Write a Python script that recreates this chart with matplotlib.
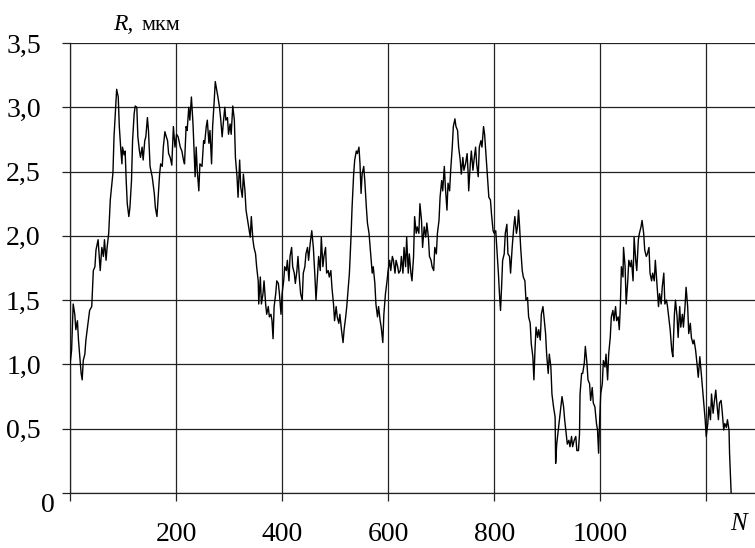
import matplotlib
matplotlib.use("Agg")
import matplotlib.pyplot as plt

# roughness profile, R in micrometres against point number N
n_pts = [
    0, 3, 6, 9, 11, 14, 16, 19, 21, 23, 25, 28, 30, 33, 37, 41, 44, 47, 49, 53,
    57, 60, 63, 65, 68, 70, 73, 76, 79, 81, 83, 86, 88, 91, 93, 96, 98, 99, 102, 104,
    106, 108, 111, 113, 116, 118, 121, 123, 126, 128, 131, 133, 136, 138, 141, 143, 146, 148, 151, 155,
    159, 161, 164, 166, 169, 171, 174, 176, 179, 181, 184, 186, 189, 192, 195, 198, 201, 204, 208, 211,
    214, 216, 219, 221, 224, 226, 229, 232, 234, 236, 238, 240, 243, 245, 249, 252, 254, 257, 259, 262,
    264, 267, 269, 272, 274, 277, 279, 282, 284, 287, 289, 292, 294, 297, 299, 302, 304, 307, 310, 312,
    315, 317, 320, 322, 325, 327, 330, 332, 335, 337, 340, 342, 345, 347, 350, 352, 355, 356, 359, 361,
    364, 366, 369, 371, 374, 376, 379, 381, 383, 385, 388, 390, 393, 395, 398, 400, 403, 405, 408, 410,
    413, 415, 418, 420, 423, 425, 428, 430, 433, 435, 438, 440, 443, 445, 448, 450, 453, 456, 459, 462,
    464, 467, 469, 472, 474, 477, 479, 482, 484, 487, 489, 492, 494, 497, 499, 502, 504, 507, 509, 512,
    515, 517, 520, 522, 525, 527, 530, 532, 535, 537, 540, 542, 545, 547, 549, 551, 554, 556, 559, 561,
    564, 565, 567, 570, 572, 575, 577, 580, 582, 585, 587, 590, 592, 595, 598, 600, 603, 605, 608, 610,
    613, 615, 618, 620, 623, 625, 628, 630, 633, 635, 638, 640, 643, 645, 648, 650, 653, 655, 658, 660,
    663, 665, 668, 671, 673, 676, 678, 681, 683, 686, 688, 691, 693, 696, 698, 701, 703, 706, 708, 711,
    713, 716, 718, 721, 723, 726, 728, 731, 733, 736, 738, 741, 743, 746, 749, 751, 752, 755, 757, 760,
    762, 765, 767, 770, 772, 775, 777, 780, 782, 785, 788, 790, 793, 795, 798, 800, 803, 805, 808, 810,
    812, 814, 816, 819, 821, 824, 826, 829, 831, 834, 837, 839, 842, 844, 846, 848, 850, 853, 855, 858,
    860, 863, 865, 868, 870, 873, 875, 877, 879, 882, 884, 887, 889, 892, 894, 897, 899, 902, 904, 907,
    909, 912, 915, 916, 918, 921, 923, 926, 928, 931, 933, 936, 938, 941, 943, 946, 948, 951, 954, 956,
    959, 961, 962, 965, 967, 970, 972, 975, 977, 980, 982, 985, 987, 990, 993, 995, 997, 999, 1001, 1004,
    1006, 1009, 1011, 1014, 1016, 1019, 1021, 1024, 1026, 1029, 1031, 1034, 1036, 1038, 1040, 1043, 1044, 1047, 1049, 1052,
    1054, 1057, 1059, 1062, 1064, 1067, 1069, 1072, 1074, 1077, 1079, 1082, 1084, 1087, 1089, 1092, 1094, 1097, 1099, 1102,
    1104, 1107, 1110, 1112, 1115, 1117, 1120, 1122, 1125, 1127, 1130, 1132, 1135, 1137, 1140, 1142, 1145, 1147, 1150, 1152,
    1155, 1157, 1160, 1162, 1165, 1167, 1170, 1172, 1175, 1177, 1180, 1182, 1185, 1188, 1190, 1193, 1195, 1198, 1200, 1203,
    1205, 1208, 1210, 1213, 1215, 1218, 1220, 1223, 1225, 1228, 1230, 1233, 1235, 1238, 1240, 1243, 1244, 1247,
]
r_pts = [
    1.00, 1.11, 1.47, 1.39, 1.27, 1.34, 1.19, 1.03, 0.93, 0.88, 1.03, 1.08, 1.19, 1.29, 1.42, 1.45, 1.73, 1.76, 1.89, 1.97,
    1.73, 1.91, 1.84, 1.97, 1.81, 1.91, 2.02, 2.28, 2.41, 2.49, 2.77, 3.00, 3.14, 3.08, 2.85, 2.66, 2.56, 2.69, 2.63, 2.66,
    2.43, 2.25, 2.15, 2.22, 2.43, 2.74, 2.95, 3.01, 3.00, 2.77, 2.66, 2.61, 2.69, 2.59, 2.74, 2.77, 2.92, 2.82, 2.54, 2.46,
    2.33, 2.22, 2.15, 2.28, 2.48, 2.56, 2.54, 2.69, 2.81, 2.78, 2.74, 2.64, 2.61, 2.55, 2.85, 2.69, 2.79, 2.77, 2.69, 2.66,
    2.59, 2.56, 2.85, 2.82, 3.00, 2.90, 3.08, 2.87, 2.66, 2.46, 2.69, 2.51, 2.35, 2.56, 2.54, 2.74, 2.72, 2.85, 2.90, 2.72,
    2.82, 2.56, 2.85, 3.05, 3.20, 3.13, 3.08, 3.00, 2.92, 2.77, 2.87, 3.00, 2.90, 2.92, 2.79, 2.87, 2.79, 3.01, 2.90, 2.61,
    2.46, 2.30, 2.59, 2.38, 2.30, 2.48, 2.35, 2.20, 2.12, 2.07, 1.99, 2.15, 1.97, 1.91, 1.86, 1.76, 1.65, 1.47, 1.68, 1.47,
    1.55, 1.65, 1.47, 1.39, 1.45, 1.37, 1.39, 1.34, 1.20, 1.45, 1.55, 1.65, 1.63, 1.55, 1.39, 1.55, 1.65, 1.76, 1.73, 1.81,
    1.65, 1.84, 1.91, 1.76, 1.71, 1.63, 1.73, 1.84, 1.65, 1.55, 1.50, 1.71, 1.76, 1.86, 1.91, 1.81, 1.94, 2.04, 1.91, 1.68,
    1.50, 1.71, 1.84, 1.73, 1.99, 1.76, 1.84, 1.91, 1.71, 1.73, 1.68, 1.73, 1.60, 1.47, 1.34, 1.45, 1.37, 1.32, 1.39, 1.27,
    1.17, 1.27, 1.37, 1.45, 1.60, 1.71, 1.99, 2.22, 2.48, 2.59, 2.66, 2.64, 2.69, 2.56, 2.33, 2.48, 2.54, 2.43, 2.22, 2.10,
    2.02, 1.97, 1.86, 1.71, 1.76, 1.63, 1.47, 1.37, 1.45, 1.34, 1.29, 1.17, 1.39, 1.55, 1.65, 1.73, 1.81, 1.73, 1.84, 1.81,
    1.71, 1.81, 1.76, 1.71, 1.73, 1.84, 1.71, 1.91, 1.76, 1.99, 1.71, 1.86, 1.71, 1.65, 1.84, 2.15, 2.02, 2.07, 2.02, 2.25,
    2.12, 1.91, 2.07, 1.99, 2.10, 1.99, 1.84, 1.81, 1.76, 1.73, 1.91, 1.86, 2.02, 2.12, 2.30, 2.43, 2.35, 2.54, 2.38, 2.20,
    2.41, 2.35, 2.51, 2.69, 2.85, 2.91, 2.85, 2.82, 2.69, 2.59, 2.48, 2.61, 2.51, 2.56, 2.64, 2.48, 2.35, 2.56, 2.66, 2.51,
    2.59, 2.69, 2.56, 2.46, 2.69, 2.74, 2.69, 2.85, 2.79, 2.61, 2.43, 2.30, 2.28, 2.17, 2.04, 2.02, 2.04, 1.91, 1.71, 1.55,
    1.42, 1.60, 1.81, 1.86, 2.02, 2.09, 1.86, 1.84, 1.71, 1.91, 2.07, 2.15, 2.02, 2.07, 2.20, 2.07, 1.91, 1.73, 1.68, 1.65,
    1.50, 1.52, 1.37, 1.32, 1.16, 1.06, 0.88, 1.11, 1.29, 1.21, 1.27, 1.19, 1.39, 1.45, 1.37, 1.24, 1.08, 0.93, 1.08, 0.98,
    0.77, 0.67, 0.59, 0.23, 0.38, 0.49, 0.57, 0.67, 0.75, 0.67, 0.57, 0.46, 0.38, 0.41, 0.36, 0.44, 0.36, 0.41, 0.44, 0.33,
    0.33, 0.46, 0.77, 0.93, 0.93, 1.01, 1.14, 1.01, 0.88, 0.85, 0.72, 0.82, 0.70, 0.67, 0.54, 0.49, 0.31, 0.57, 0.77, 0.85,
    1.03, 0.98, 1.08, 0.88, 1.08, 1.21, 1.37, 1.42, 1.34, 1.45, 1.34, 1.37, 1.27, 1.45, 1.76, 1.68, 1.91, 1.76, 1.47, 1.65,
    1.81, 1.76, 1.81, 1.65, 1.99, 1.81, 1.73, 1.97, 2.02, 2.07, 2.12, 2.02, 1.89, 1.84, 1.86, 1.91, 1.71, 1.65, 1.71, 1.65,
    1.81, 1.63, 1.45, 1.55, 1.47, 1.60, 1.71, 1.47, 1.50, 1.45, 1.34, 1.27, 1.11, 1.06, 1.39, 1.50, 1.37, 1.21, 1.45, 1.29,
    1.39, 1.29, 1.45, 1.60, 1.45, 1.24, 1.32, 1.21, 1.16, 1.19, 1.11, 1.03, 0.90, 1.06, 0.96, 0.80, 0.72, 0.57, 0.44, 0.54,
    0.67, 0.57, 0.77, 0.62, 0.70, 0.80, 0.70, 0.57, 0.70, 0.72, 0.64, 0.49, 0.54, 0.51, 0.57, 0.49, 0.31, 0.00,
]

x_ticks = [0, 200, 400, 600, 800, 1000, 1200]
x_labels = ["", "200", "400", "600", "800", "1000", ""]
y_ticks = [0, 0.5, 1.0, 1.5, 2.0, 2.5, 3.0, 3.5]
y_labels = ["", "0,5", "1,0", "1,5", "2,0", "2,5", "3,0", "3,5"]

plt.rcParams["font.family"] = ["Liberation Serif", "DejaVu Serif"]
W, H = 755, 548

fig = plt.figure(figsize=(W / 100, H / 100), dpi=100)
ax = fig.add_axes([70 / W, 1 - 493 / H, 685 / W, 450 / H])

ax.plot(n_pts, r_pts, color="black", lw=1.0, zorder=3)

ax.set_xlim(0, 1292)
ax.set_ylim(0, 3.5)
ax.set_xticks(x_ticks)
ax.set_xticklabels(x_labels)
ax.set_yticks(y_ticks)
ax.set_yticklabels(y_labels)
ax.grid(True, color="#222222", lw=0.9)
ax.tick_params(direction="out", length=6, width=0.9, color="#222222",
               labelsize=20, pad=15)

for side in ["top", "right"]:
    ax.spines[side].set_visible(False)
for side in ["left", "bottom"]:
    ax.spines[side].set_color("#222222")
    ax.spines[side].set_linewidth(0.9)

# axis captions and the origin label
fig.text(48 / W, 1 - 505 / H, "0", fontsize=20, ha="center", va="center")
fig.text(113 / W, 1 - 30 / H, "R,", fontsize=17, style="italic", ha="left", va="baseline")
fig.text(141 / W, 1 - 30 / H, "мкм", fontsize=16, ha="left", va="baseline")
fig.text(738 / W, 1 - 530 / H, "N", fontsize=18, style="italic", ha="center", va="baseline")

fig.savefig("out.png", dpi=100)
